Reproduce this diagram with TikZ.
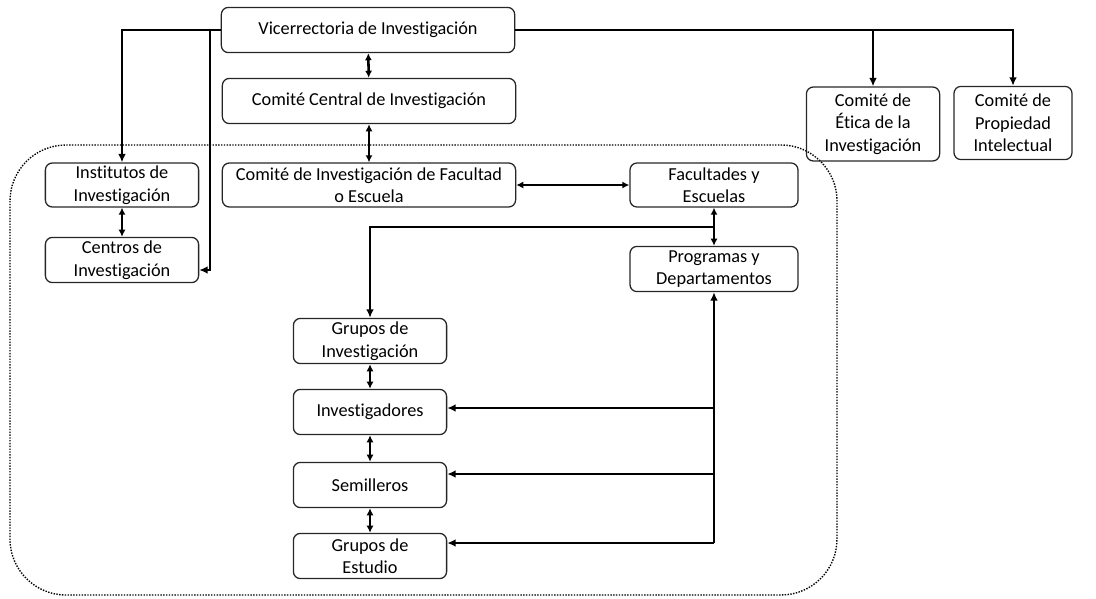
\documentclass[tikz,border=0pt]{standalone}
\usepackage{fontspec}
\setmainfont{Carlito}[Ligatures=NoCommon]
\usetikzlibrary{arrows.meta}

\tikzset{
  caja/.style={draw=black!85, line width=0.9pt, rounded corners=5pt, align=center,
    inner sep=1pt, font=\fontsize{13}{16}\selectfont, minimum height=1.13cm},
  flecha/.style={line width=1.8pt, -{Latex[length=6pt,width=5.5pt]}},
  dflecha/.style={line width=1.8pt, {Latex[length=5pt,width=5pt]}-{Latex[length=5pt,width=5pt]}},
}

\begin{document}
\begin{tikzpicture}[x=0.025cm,y=-0.025cm]
    \useasboundingbox (0,0) rectangle (1096,598);

    % Zona punteada
    \draw[densely dotted, line width=1pt, rounded corners=1.4cm] (10,145) rectangle (837,595);

    % Nivel central
    \node[caja, minimum width=7.33cm] (vice) at (368,30) {Vicerrectoria de Investigación};
    \node[caja, minimum width=7.33cm] (central) at (369,101) {Comité Central de Investigación};
    \node[caja, minimum width=7.33cm, minimum height=1.1cm] (comfac) at (369,185) {Comité de Investigación de Facultad\\o Escuela};

    % Institutos y centros
    \node[caja, minimum width=3.83cm, minimum height=1.1cm] (inst) at (122,185) {Institutos de\\Investigación};
    \node[caja, minimum width=3.83cm] (cent) at (122,260) {Centros de\\Investigación};

    % Facultades
    \node[caja, minimum width=4.2cm, minimum height=1.1cm] (fac) at (714,185) {Facultades y\\Escuelas};
    \node[caja, minimum width=4.2cm] (prog) at (714,269) {Programas y\\Departamentos};

    % Comites aparte
    \node[caja, minimum width=3.33cm, minimum height=1.85cm] (etica) at (873,124) {Comité de\\Ética de la\\Investigación};
    \node[caja, minimum width=2.95cm, minimum height=1.83cm] (prop) at (1013,123) {Comité de\\Propiedad\\Intelectual};

    % Grupos
    \node[caja, minimum width=3.83cm] (grinv) at (370,341) {Grupos de\\Investigación};
    \node[caja, minimum width=3.83cm] (invs) at (370,412) {Investigadores};
    \node[caja, minimum width=3.83cm] (sem) at (370,485) {Semilleros};
    \node[caja, minimum width=3.83cm] (grest) at (370,556) {Grupos de\\Estudio};

    % Puntos de cruce
    \coordinate (c1) at (210,270);
    \coordinate (j1) at (713,227);
    \coordinate (j2) at (713,543);
    \coordinate (j3) at (713,408);
    \coordinate (j4) at (713,474);

    % Desde la vicerrectoria
    \draw[flecha] (vice.west) -| (inst.north);
    \draw[flecha] (vice.west -| c1) -- (c1) -- (cent.east |- c1);
    \draw[flecha] (vice.east) -| (prop.north);
    \draw[flecha] (vice.east -| etica.north) -- (etica.north);

    % Relaciones dobles
    \draw[dflecha] (vice) -- (central);
    \draw[dflecha] (central) -- (comfac);
    \draw[dflecha] (inst) -- (cent);
    \draw[dflecha] (comfac) -- (fac);
    \draw[dflecha] (fac) -- (prog);
    \draw[dflecha] (grinv) -- (invs);
    \draw[dflecha] (invs) -- (sem);
    \draw[dflecha] (sem) -- (grest);

    % Hacia los grupos
    \draw[flecha] (fac.south |- j1) -| (grinv.north);
    \draw[flecha] (prog.south |- j2) -- (prog.south);
    \draw[flecha] (prog.south |- j2) -- (grest.east |- j2);
    \draw[flecha] (prog.south |- j3) -- (invs.east |- j3);
    \draw[flecha] (prog.south |- j4) -- (sem.east |- j4);
\end{tikzpicture}
\end{document}
